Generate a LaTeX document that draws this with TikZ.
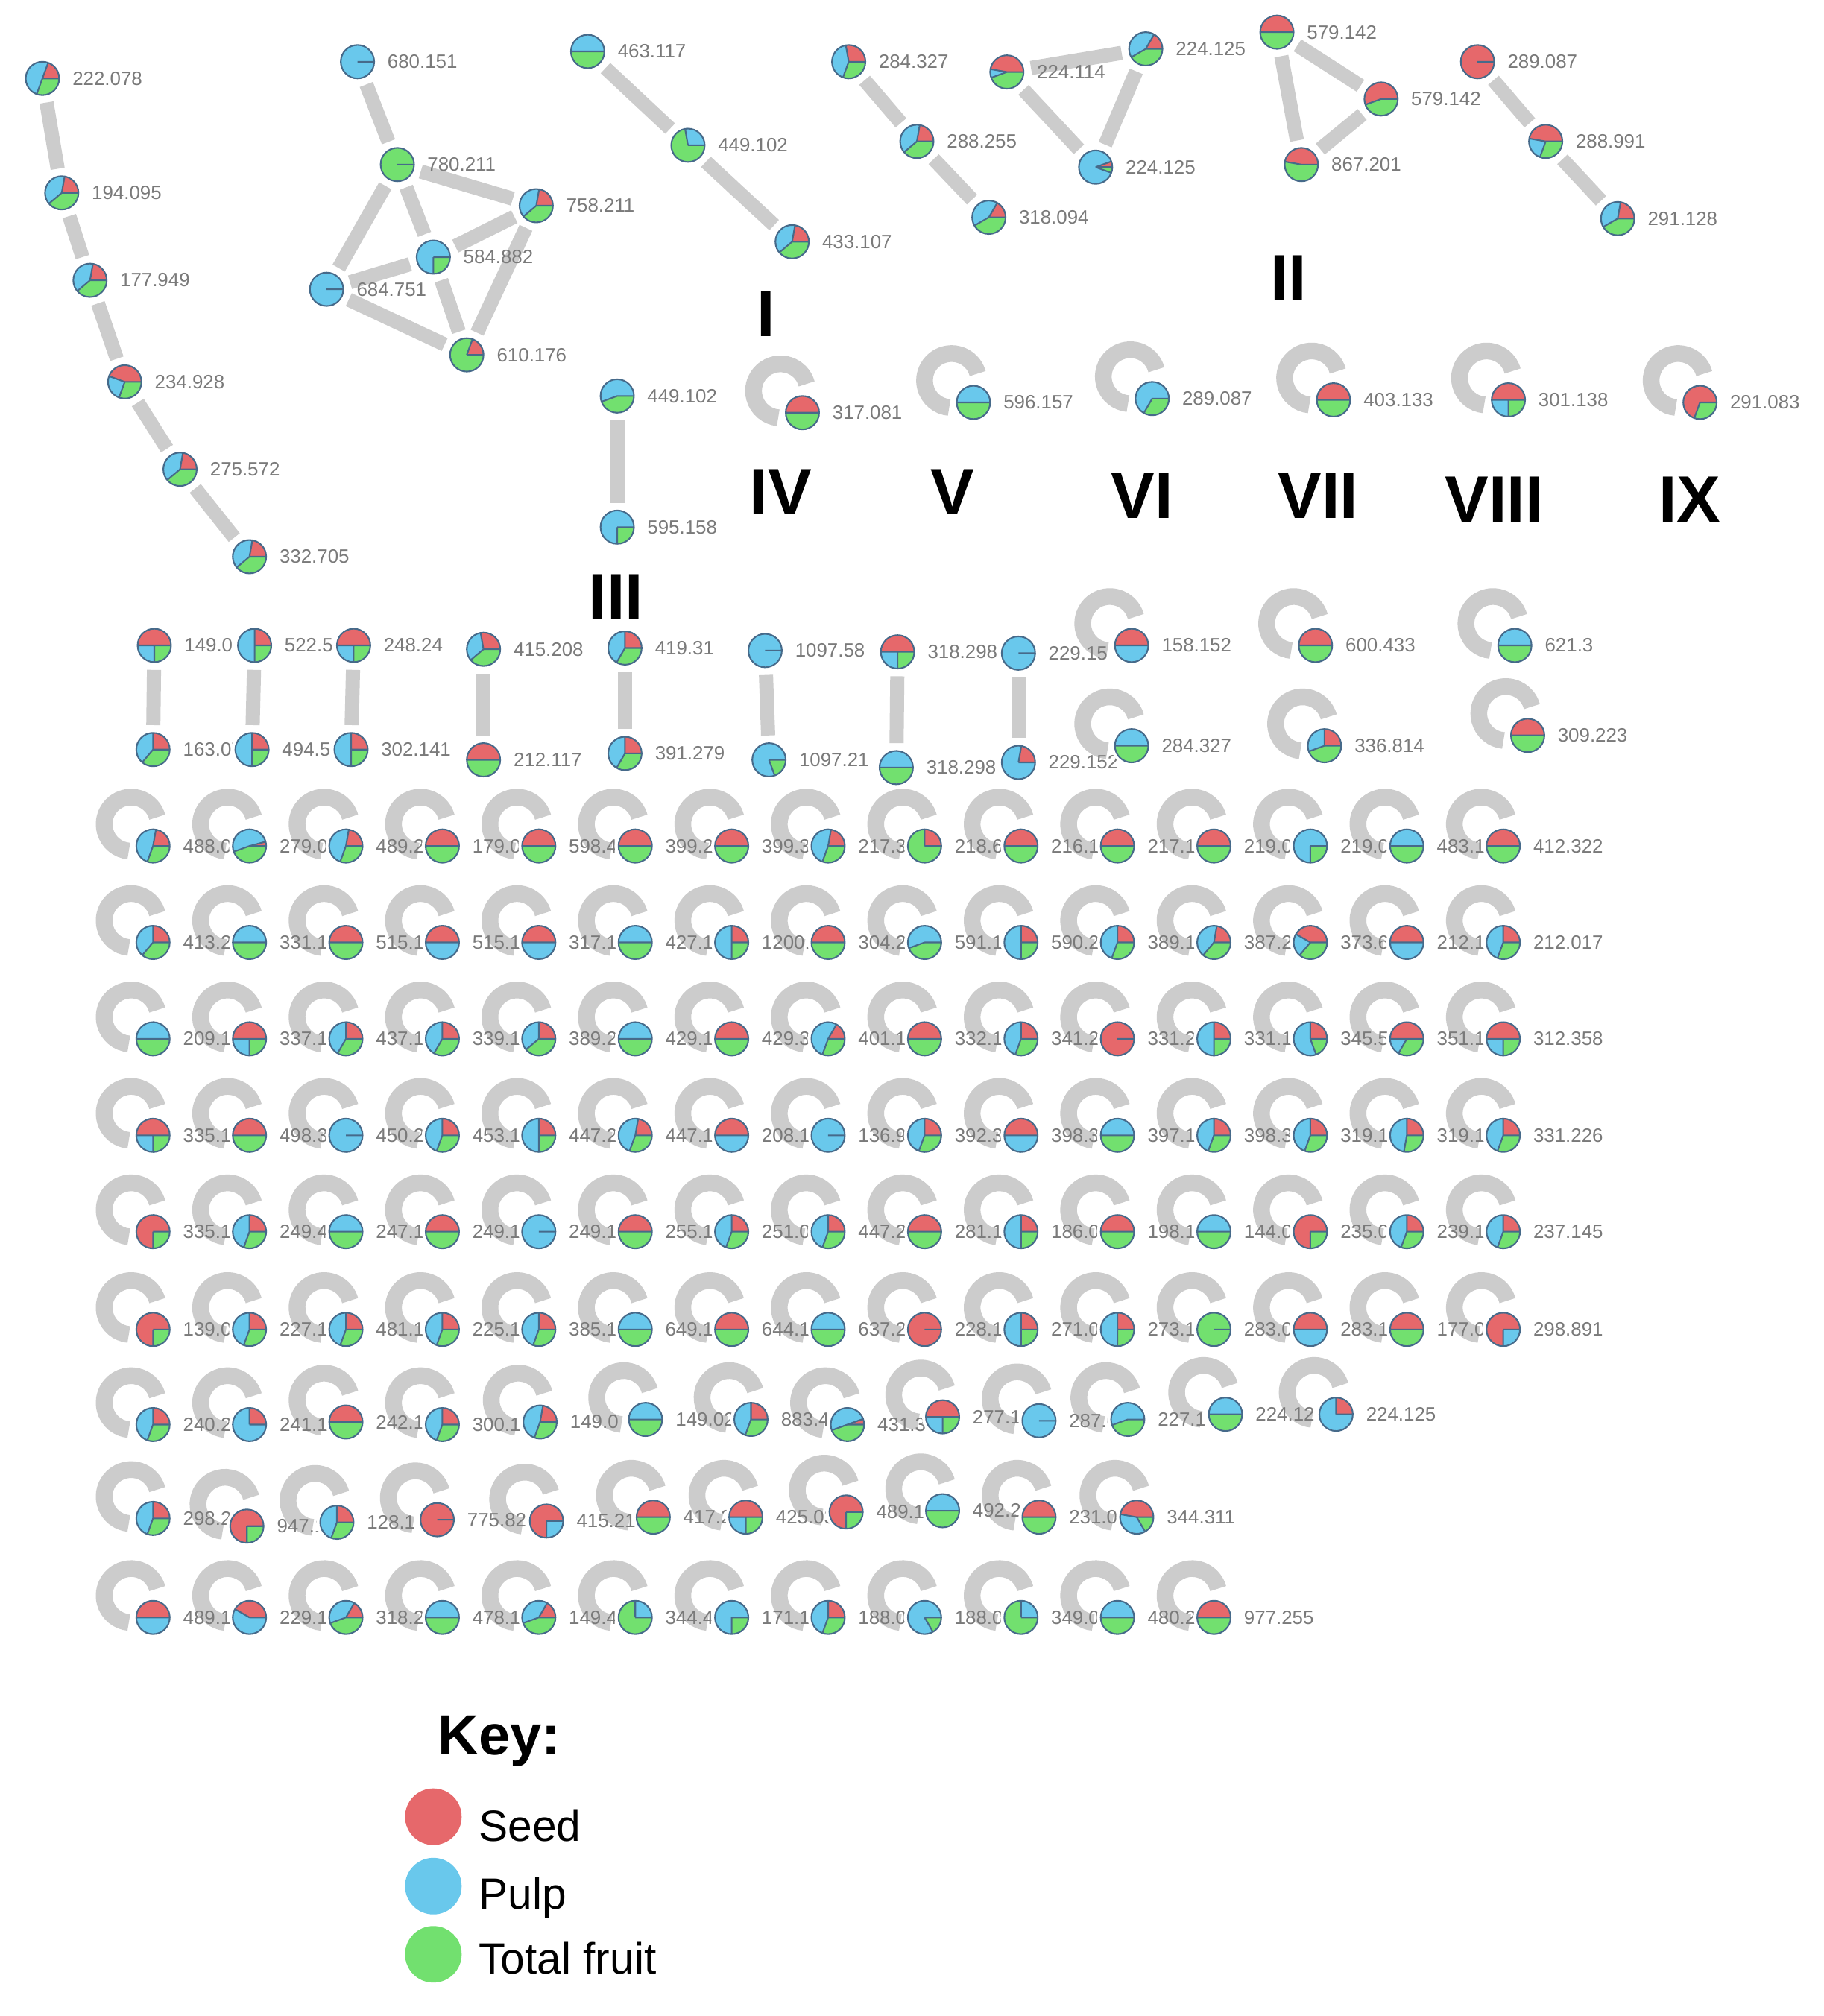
\documentclass[tikz,border=0pt]{standalone}
\usepackage{fontspec}
\setmainfont{Liberation Sans}
\pgfdeclarelayer{bg}
\pgfdeclarelayer{lab}
\pgfsetlayers{bg,lab,main}
\definecolor{rc}{HTML}{E6686B}
\definecolor{bc}{HTML}{69C8EC}
\definecolor{gc}{HTML}{72E06F}
\definecolor{sepc}{HTML}{466A8A}
\definecolor{linkc}{HTML}{CCCCCC}
\definecolor{labc}{HTML}{7A7A7A}
\tikzset{
  pienode/.style={circle,minimum size=13pt,inner sep=0pt,outer sep=3pt},
  sepline/.style={draw=sepc,line width=0.6pt},
  linkline/.style={draw=linkc,line width=5.5pt},
  loopline/.style={draw=linkc,line width=6.5pt},
  lab/.style={anchor=west,inner sep=0pt,text=labc,font=\fontsize{7.5}{9}\selectfont},
  roman/.style={anchor=base,inner sep=0pt,text=black,font=\fontsize{25.5}{27}\selectfont\bfseries},
  keytext/.style={anchor=base west,inner sep=0pt,text=black,font=\fontsize{17}{19}\selectfont},
  keydot/.style={circle,minimum size=22pt,inner sep=0pt}
}
% name, x, y, red end angle, blue end angle, label
\newcommand\PN[6]{%
  \node[pienode] (#1) at (#2,#3) {};
  \fill[white] (#1.center) circle[radius=16];
  \fill[gc] (#1.center) circle[radius=13];
  \ifnum#5>0 \fill[bc] (#1.center) -- ++(13,0) arc[start angle=0,end angle=-#5,radius=13] -- cycle;\fi
  \ifnum#4>0 \fill[rc] (#1.center) -- ++(13,0) arc[start angle=0,end angle=-#4,radius=13] -- cycle;\fi
  \draw[sepline] (#1.center) -- ++(13,0) (#1.center) -- ++(-#4:13) (#1.center) -- ++(-#5:13) (#1.center) circle[radius=13];
  \begin{pgfonlayer}{lab}\node[lab] at ([xshift=11.5pt]#1.center) {#6};\end{pgfonlayer}%
}
\newcommand\LP[1]{%
  \begin{pgfonlayer}{bg}\draw[loopline] ([shift={(3.28,-22.44)}]#1.center) arc[start angle=-15,end angle=-265,radius=21];\end{pgfonlayer}%
}
\newcommand\GN[6]{\PN{#1}{#2}{#3}{#4}{#5}{#6}\LP{#1}}
\newcommand\ED[2]{\begin{pgfonlayer}{bg}\draw[linkline] (#1) -- (#2);\end{pgfonlayer}}
\begin{document}
\begin{tikzpicture}[x=0.5pt,y=-0.5pt]
\begin{pgfonlayer}{bg}
\fill[white] (0,0) rectangle (1418,1568);
\end{pgfonlayer}
\useasboundingbox (0,0) rectangle (1418,1568);

% ---- component chain left
\PN{a1}{33}{61}{70}{250}{222.078}
\PN{a2}{48}{150}{80}{220}{194.095}
\PN{a3}{70}{218}{80}{220}{177.949}
\PN{a4}{97}{297}{160}{250}{234.928}
\PN{a5}{140}{365}{80}{220}{275.572}
\PN{a6}{194}{433}{80}{220}{332.705}
\ED{a1}{a2}\ED{a2}{a3}\ED{a3}{a4}\ED{a4}{a5}\ED{a5}{a6}

% ---- component b
\PN{b1}{278}{48}{0}{360}{680.151}
\PN{b2}{309}{128}{0}{0}{780.211}
\PN{b3}{417}{160}{80}{220}{758.211}
\PN{b4}{337}{200}{0}{270}{584.882}
\PN{b5}{254}{225}{0}{360}{684.751}
\PN{b6}{363}{276}{70}{70}{610.176}
\ED{b1}{b2}\ED{b2}{b3}\ED{b2}{b4}\ED{b2}{b5}\ED{b3}{b4}\ED{b3}{b6}\ED{b4}{b5}\ED{b4}{b6}\ED{b5}{b6}

% ---- component c (I)
\PN{c1}{457}{40}{0}{180}{463.117}
\PN{c2}{535}{113}{0}{100}{449.102}
\PN{c3}{616}{188}{80}{220}{433.107}
\ED{c1}{c2}\ED{c2}{c3}

% ---- component d
\PN{d1}{660}{48}{100}{250}{284.327}
\PN{d2}{713}{110}{80}{220}{288.255}
\PN{d3}{769}{169}{60}{210}{318.094}
\ED{d1}{d2}\ED{d2}{d3}

% ---- component e
\PN{e1}{783}{56}{170}{200}{224.114}
\PN{e2}{891}{38}{60}{210}{224.125}
\PN{e3}{852}{130}{20}{340}{224.125}
\ED{e1}{e2}\ED{e1}{e3}\ED{e2}{e3}

% ---- component f (II)
\PN{f1}{993}{25}{180}{180}{579.142}
\PN{f2}{1074}{77}{200}{200}{579.142}
\PN{f3}{1012}{128}{170}{170}{867.201}
\ED{f1}{f2}\ED{f1}{f3}\ED{f2}{f3}

% ---- component g
\PN{g1}{1149}{48}{360}{360}{289.087}
\PN{g2}{1202}{110}{170}{250}{288.991}
\PN{g3}{1258}{170}{80}{210}{291.128}
\ED{g1}{g2}\ED{g2}{g3}

% ---- component h (III)
\PN{h1}{480}{308}{0}{200}{449.102}
\PN{h2}{480}{410}{0}{270}{595.158}
\ED{h1}{h2}

% ---- self loops IV - IX
\GN{l4}{624}{321}{180}{180}{317.081}
\GN{l5}{757}{313}{0}{180}{596.157}
\GN{l6}{896}{310}{0}{240}{289.087}
\GN{l7}{1037}{311}{180}{180}{403.133}
\GN{l8}{1173}{311}{180}{270}{301.138}
\GN{l9}{1322}{313}{250}{250}{291.083}

% ---- roman labels
\node[roman] (tI) at (596,262) {I};
\node[roman] (tII) at (1002,234) {II};
\node[roman] (tIII) at (479,482) {III};
\node[roman] (tIV) at (607,400) {IV};
\node[roman] (tV) at (741,400) {V};
\node[roman] (tVI) at (888,403) {VI};
\node[roman] (tVII) at (1025,403) {VII};
\node[roman] (tVIII) at (1162,406) {VIII};
\node[roman] (tIX) at (1314,406) {IX};

% ---- pairs
\PN{q1}{120}{502}{180}{270}{149.0}
\PN{q1b}{119}{583}{90}{230}{163.07}
\PN{q2}{198}{502}{90}{270}{522.5}
\PN{q2b}{196}{583}{90}{270}{494.59}
\PN{q3}{275}{502}{180}{270}{248.24}
\PN{q3b}{273}{583}{90}{270}{302.141}
\PN{q4}{376}{505}{100}{220}{415.208}
\PN{q4b}{376}{591}{180}{180}{212.117}
\PN{q5}{486}{504}{90}{240}{419.31}
\PN{q5b}{486}{586}{90}{240}{391.279}
\PN{q6}{595}{506}{0}{360}{1097.58}
\PN{q6b}{598}{591}{0}{290}{1097.21}
\PN{q7}{698}{507}{180}{270}{318.298}
\PN{q7b}{697}{597}{0}{180}{318.298}
\PN{q8}{792}{508}{0}{360}{229.15}
\PN{q8b}{792}{593}{80}{360}{229.152}
\ED{q1}{q1b}\ED{q2}{q2b}\ED{q3}{q3b}\ED{q4}{q4b}\ED{q5}{q5b}\ED{q6}{q6b}\ED{q7}{q7b}\ED{q8}{q8b}

% ---- middle loops
\GN{m1}{880}{502}{180}{360}{158.152}
\GN{m2}{1023}{502}{180}{180}{600.433}
\GN{m3}{1178}{502}{0}{180}{621.3}
\GN{m4}{880}{580}{0}{180}{284.327}
\GN{m5}{1030}{580}{90}{200}{336.814}
\GN{m6}{1188}{572}{180}{180}{309.223}

% ---- grid row 1
\GN{r1c1}{119}{658}{80}{250}{488.0}
\GN{r1c2}{194}{658}{15}{200}{279.02}
\GN{r1c3}{269}{658}{80}{250}{489.2}
\GN{r1c4}{344}{658}{180}{180}{179.03}
\GN{r1c5}{419}{658}{180}{180}{598.4}
\GN{r1c6}{494}{658}{180}{180}{399.26}
\GN{r1c7}{569}{658}{180}{180}{399.3}
\GN{r1c8}{644}{658}{80}{250}{217.38}
\GN{r1c9}{719}{658}{90}{90}{218.63}
\GN{r1c10}{794}{658}{180}{180}{216.13}
\GN{r1c11}{869}{658}{180}{180}{217.162}
\GN{r1c12}{944}{658}{180}{180}{219.02}
\GN{r1c13}{1019}{658}{0}{270}{219.08}
\GN{r1c14}{1094}{658}{0}{180}{483.17}
\GN{r1c15}{1169}{658}{180}{180}{412.322}
% ---- grid row 2
\GN{r2c1}{119}{733}{90}{230}{413.26}
\GN{r2c2}{194}{733}{0}{180}{331.18}
\GN{r2c3}{269}{733}{180}{180}{515.14}
\GN{r2c4}{344}{733}{180}{360}{515.1}
\GN{r2c5}{419}{733}{180}{360}{317.1}
\GN{r2c6}{494}{733}{0}{180}{427.1}
\GN{r2c7}{569}{733}{90}{270}{1200.0}
\GN{r2c8}{644}{733}{180}{180}{304.29}
\GN{r2c9}{719}{733}{0}{200}{591.18}
\GN{r2c10}{794}{733}{90}{270}{590.26}
\GN{r2c11}{869}{733}{90}{250}{389.15}
\GN{r2c12}{944}{733}{80}{230}{387.22}
\GN{r2c13}{1019}{733}{150}{230}{373.68}
\GN{r2c14}{1094}{733}{180}{360}{212.10}
\GN{r2c15}{1169}{733}{90}{250}{212.017}
% ---- grid row 3
\GN{r3c1}{119}{808}{0}{180}{209.14}
\GN{r3c2}{194}{808}{180}{270}{337.1}
\GN{r3c3}{269}{808}{90}{240}{437.18}
\GN{r3c4}{344}{808}{90}{240}{339.1}
\GN{r3c5}{419}{808}{90}{220}{389.24}
\GN{r3c6}{494}{808}{0}{180}{429.1}
\GN{r3c7}{569}{808}{180}{180}{429.3}
\GN{r3c8}{644}{808}{60}{250}{401.18}
\GN{r3c9}{719}{808}{180}{180}{332.16}
\GN{r3c10}{794}{808}{90}{250}{341.26}
\GN{r3c11}{869}{808}{360}{360}{331.26}
\GN{r3c12}{944}{808}{90}{270}{331.16}
\GN{r3c13}{1019}{808}{90}{290}{345.56}
\GN{r3c14}{1094}{808}{180}{240}{351.16}
\GN{r3c15}{1169}{808}{180}{270}{312.358}
% ---- grid row 4
\GN{r4c1}{119}{883}{180}{270}{335.14}
\GN{r4c2}{194}{883}{180}{180}{498.36}
\GN{r4c3}{269}{883}{0}{360}{450.2}
\GN{r4c4}{344}{883}{90}{250}{453.16}
\GN{r4c5}{419}{883}{90}{270}{447.26}
\GN{r4c6}{494}{883}{80}{250}{447.1}
\GN{r4c7}{569}{883}{180}{360}{208.1}
\GN{r4c8}{644}{883}{0}{360}{136.96}
\GN{r4c9}{719}{883}{90}{250}{392.39}
\GN{r4c10}{794}{883}{180}{360}{398.36}
\GN{r4c11}{869}{883}{0}{180}{397.16}
\GN{r4c12}{944}{883}{90}{250}{398.34}
\GN{r4c13}{1019}{883}{90}{250}{319.16}
\GN{r4c14}{1094}{883}{90}{260}{319.16}
\GN{r4c15}{1169}{883}{90}{250}{331.226}
% ---- grid row 5
\GN{r5c1}{119}{958}{270}{270}{335.16}
\GN{r5c2}{194}{958}{90}{250}{249.46}
\GN{r5c3}{269}{958}{0}{180}{247.1}
\GN{r5c4}{344}{958}{180}{180}{249.16}
\GN{r5c5}{419}{958}{0}{360}{249.16}
\GN{r5c6}{494}{958}{180}{180}{255.1}
\GN{r5c7}{569}{958}{90}{250}{251.0}
\GN{r5c8}{644}{958}{90}{250}{447.26}
\GN{r5c9}{719}{958}{180}{180}{281.16}
\GN{r5c10}{794}{958}{90}{270}{186.06}
\GN{r5c11}{869}{958}{180}{180}{198.16}
\GN{r5c12}{944}{958}{0}{180}{144.06}
\GN{r5c13}{1019}{958}{270}{270}{235.06}
\GN{r5c14}{1094}{958}{90}{250}{239.16}
\GN{r5c15}{1169}{958}{90}{250}{237.145}
% ---- grid row 6
\GN{r6c1}{119}{1034}{270}{270}{139.06}
\GN{r6c2}{194}{1034}{90}{250}{227.16}
\GN{r6c3}{269}{1034}{90}{250}{481.1}
\GN{r6c4}{344}{1034}{90}{250}{225.16}
\GN{r6c5}{419}{1034}{90}{250}{385.16}
\GN{r6c6}{494}{1034}{0}{180}{649.1}
\GN{r6c7}{569}{1034}{180}{180}{644.1}
\GN{r6c8}{644}{1034}{0}{180}{637.26}
\GN{r6c9}{719}{1034}{360}{360}{228.16}
\GN{r6c10}{794}{1034}{90}{270}{271.06}
\GN{r6c11}{869}{1034}{90}{270}{273.16}
\GN{r6c12}{944}{1034}{0}{0}{283.06}
\GN{r6c13}{1019}{1034}{180}{360}{283.16}
\GN{r6c14}{1094}{1034}{180}{180}{177.06}
\GN{r6c15}{1169}{1034}{270}{360}{298.891}
% ---- grid row 7
\GN{r7c1}{119}{1108}{90}{250}{240.22}
\GN{r7c2}{194}{1108}{90}{360}{241.1}
\GN{r7c3}{269}{1106}{180}{180}{242.1}
\GN{r7c4}{344}{1108}{90}{250}{300.1}
\GN{r7c5}{420}{1106}{80}{250}{149.0}
\GN{r7c6}{502}{1104}{0}{180}{149.02}
\GN{r7c7}{584}{1104}{90}{250}{883.46}
\GN{r7c8}{659}{1108}{20}{200}{431.36}
\GN{r7c9}{733}{1102}{180}{270}{277.16}
\GN{r7c10}{808}{1105}{0}{360}{287.06}
\GN{r7c11}{877}{1104}{0}{200}{227.16}
\GN{r7c12}{953}{1100}{0}{180}{224.12}
\GN{r7c13}{1039}{1100}{90}{360}{224.125}
% ---- grid row 8
\GN{r8c1}{119}{1181}{90}{250}{298.28}
\GN{r8c2}{192}{1187}{270}{270}{947.1}
\GN{r8c3}{262}{1184}{90}{250}{128.1}
\GN{r8c4}{340}{1182}{360}{360}{775.82}
\GN{r8c5}{425}{1183}{270}{360}{415.21}
\GN{r8c6}{508}{1180}{180}{180}{417.22}
\GN{r8c7}{580}{1180}{180}{270}{425.03}
\GN{r8c8}{658}{1176}{270}{270}{489.1}
\GN{r8c9}{733}{1175}{0}{180}{492.2}
\GN{r8c10}{808}{1180}{180}{180}{231.0}
\GN{r8c11}{884}{1180}{170}{300}{344.311}
% ---- grid row 9
\GN{r9c1}{119}{1258}{180}{360}{489.1}
\GN{r9c2}{194}{1258}{150}{360}{229.1}
\GN{r9c3}{269}{1258}{60}{200}{318.2}
\GN{r9c4}{344}{1258}{0}{180}{478.1}
\GN{r9c5}{419}{1258}{60}{200}{149.4}
\GN{r9c6}{494}{1258}{0}{90}{344.4}
\GN{r9c7}{569}{1258}{0}{270}{171.1}
\GN{r9c8}{644}{1258}{90}{250}{188.06}
\GN{r9c9}{719}{1258}{0}{300}{188.06}
\GN{r9c10}{794}{1258}{0}{90}{349.06}
\GN{r9c11}{869}{1258}{0}{180}{480.26}
\GN{r9c12}{944}{1258}{180}{180}{977.255}

% ---- key
\node[anchor=base west,inner sep=0pt,font=\fontsize{22}{24}\selectfont\bfseries] (keyt) at (340,1365) {Key:};
\node[keydot,fill=rc] (kseed) at (337,1413) {};
\node[keydot,fill=bc] (kpulp) at (337,1467) {};
\node[keydot,fill=gc] (kfruit) at (337,1520) {};
\node[keytext] (tseed) at (372,1432) {Seed};
\node[keytext] (tpulp) at (372,1485) {Pulp};
\node[keytext] (tfruit) at (372,1535) {Total fruit};
\end{tikzpicture}
\end{document}
